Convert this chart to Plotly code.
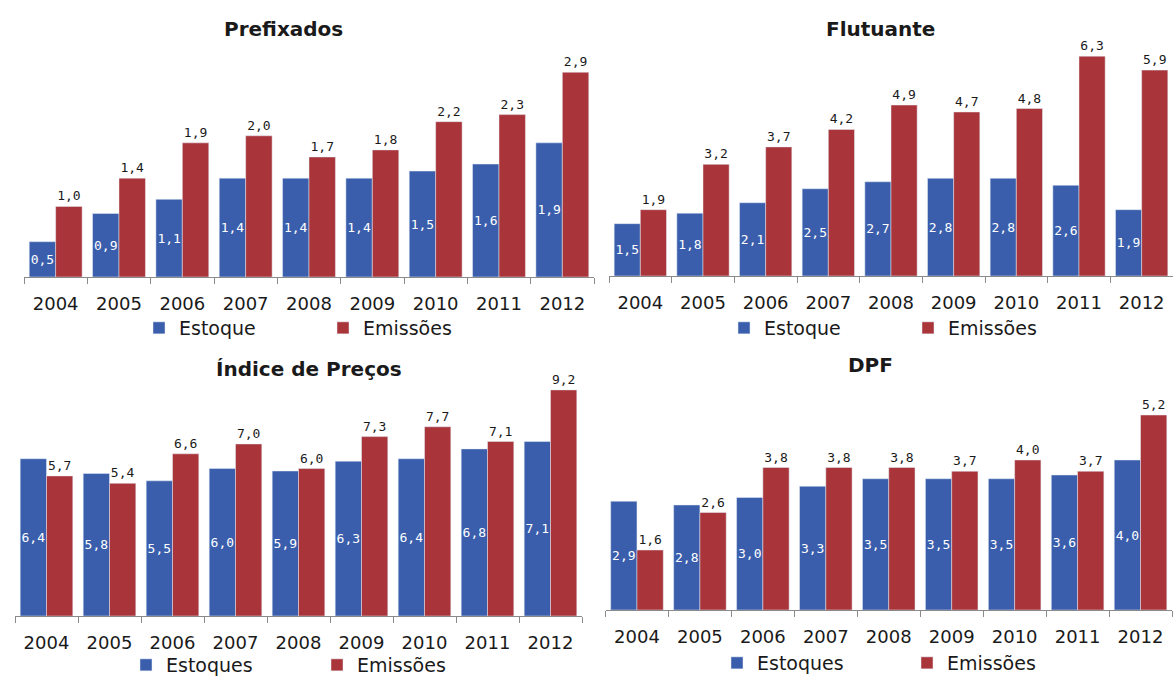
import plotly.graph_objects as go

anos = ['2004', '2005', '2006', '2007', '2008', '2009', '2010', '2011', '2012']

pre_estoque = [0.5, 0.9, 1.1, 1.4, 1.4, 1.4, 1.5, 1.6, 1.9]
pre_emissoes = [1.0, 1.4, 1.9, 2.0, 1.7, 1.8, 2.2, 2.3, 2.9]

flu_estoque = [1.5, 1.8, 2.1, 2.5, 2.7, 2.8, 2.8, 2.6, 1.9]
flu_emissoes = [1.9, 3.2, 3.7, 4.2, 4.9, 4.7, 4.8, 6.3, 5.9]

ind_estoque = [6.4, 5.8, 5.5, 6.0, 5.9, 6.3, 6.4, 6.8, 7.1]
ind_emissoes = [5.7, 5.4, 6.6, 7.0, 6.0, 7.3, 7.7, 7.1, 9.2]

dpf_estoque = [2.9, 2.8, 3.0, 3.3, 3.5, 3.5, 3.5, 3.6, 4.0]
dpf_emissoes = [1.6, 2.6, 3.8, 3.8, 3.8, 3.7, 4.0, 3.7, 5.2]

titulos = ['Prefixados', 'Flutuante', 'Índice de Preços', 'DPF']
nomes_estoque = ['Estoque', 'Estoque', 'Estoques', 'Estoques']

AZUL = '#3a5eab'
VERMELHO = '#a9343a'
W, H = 1173, 678


def fmt(v):
    return f'{v:.1f}'.replace('.', ',')


# pixel boxes of each panel: x0, x1, y_top, y_base, y range max
paineis = [
    (24, 594, 44, 277, 3.30, pre_estoque, pre_emissoes),
    (609, 1173, 45, 276, 6.62, flu_estoque, flu_emissoes),
    (15, 582, 385, 616, 9.40, ind_estoque, ind_emissoes),
    (605.5, 1172, 385, 610, 6.00, dpf_estoque, dpf_emissoes),
]
titulo_pos = [(283, 29), (880, 29), (309, 369), (870, 365)]
# legend: x where first label starts, y centre, gap between labels
legenda_pos = [(179, 328, 179), (764, 328, 179), (166, 665, 186), (757, 663, 185)]

fig = go.Figure()
layout = dict(
    width=W, height=H,
    margin=dict(l=0, r=0, t=0, b=0, autoexpand=False),
    paper_bgcolor='white', plot_bgcolor='white',
    barmode='group', bargap=0.165, bargroupgap=0,
    font=dict(family='DejaVu Sans', color='#1a1a1a'),
    annotations=[],
)

for i, (x0, x1, yt, yb, ymax, est, emi) in enumerate(paineis):
    n = '' if i == 0 else str(i + 1)
    leg = 'legend' + n
    fig.add_trace(go.Bar(
        x=anos, y=est, name=nomes_estoque[i], marker_color=AZUL,
        text=[fmt(v) for v in est], textposition='inside',
        insidetextanchor='middle', textangle=0, constraintext='none',
        textfont=dict(family='DejaVu Sans Mono', size=13, color='white'),
        xaxis='x' + n, yaxis='y' + n, legend=leg, cliponaxis=False,
    ))
    fig.add_trace(go.Bar(
        x=anos, y=emi, name='Emissões', marker_color=VERMELHO,
        text=[fmt(v) for v in emi], textposition='outside', textangle=0,
        constraintext='none',
        textfont=dict(family='DejaVu Sans Mono', size=13, color='#1a1a1a'),
        xaxis='x' + n, yaxis='y' + n, legend=leg, cliponaxis=False,
    ))
    layout['xaxis' + n] = dict(
        domain=[x0 / W, x1 / W], anchor='y' + n,
        showline=True, linecolor='#8a8a8a', linewidth=1,
        ticks='outside', tickson='boundaries', ticklen=6, tickcolor='#8a8a8a',
        tickfont=dict(size=18, color='#1a1a1a'), ticklabelstandoff=10,
        showgrid=False, fixedrange=True,
    )
    layout['yaxis' + n] = dict(
        domain=[1 - yb / H, 1 - yt / H], anchor='x' + n,
        range=[0, ymax], visible=False, fixedrange=True,
    )
    lx, ly, gap = legenda_pos[i]
    layout[leg] = dict(
        orientation='h', x=(lx - 40) / W, y=1 - ly / H,
        xanchor='left', yanchor='middle',
        font=dict(size=19, color='#1a1a1a'), bgcolor='rgba(0,0,0,0)',
        entrywidth=gap - 40, entrywidthmode='pixels', itemclick=False,
        tracegroupgap=0, borderwidth=0,
    )
    tx, ty = titulo_pos[i]
    layout['annotations'].append(dict(
        text='<b>' + titulos[i] + '</b>', x=tx / W, y=1 - ty / H,
        xref='paper', yref='paper', showarrow=False,
        xanchor='center', yanchor='middle',
        font=dict(size=20, color='#1a1a1a'),
    ))

fig.update_layout(**layout)
fig.write_html('out.html', config={'displayModeBar': False},
               post_script="document.body.style.margin='0';"
                           "document.body.style.overflow='hidden';")
